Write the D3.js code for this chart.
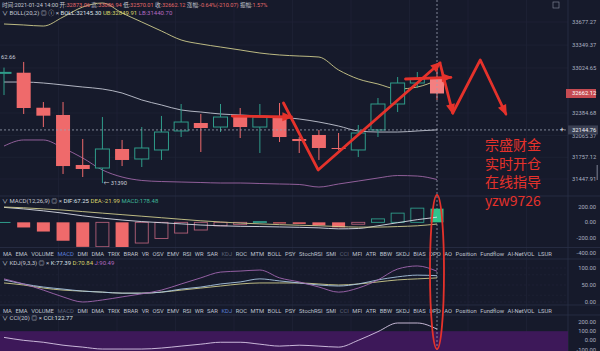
<!DOCTYPE html>
<html>
<head>
<meta charset="utf-8">
<script src="https://cdn.jsdelivr.net/npm/d3@7"></script>
<style>
  body { margin: 0; background: #161a2b; }
  svg { display: block; font-family: Roboto, "Noto Sans CJK SC", sans-serif; }
</style>
</head>
<body>
<div id="chart"></div>
<script>
const width = 600, height = 351;
const axisX = 568;

// ---- candles (BTC/USDT 1h) ----
const opens  = [32950, 32957, 32460, 32357, 31647, 31604, 31874, 31732, 31860, 32130, 32243, 32186, 32328, 32186, 32328, 32016, 32073, 31888, 31860, 32144, 32513, 32811, 32873.06];
const closes = [32962, 32456, 32347, 31632, 31590, 31874, 31718, 31888, 32115, 32257, 32172, 32328, 32186, 32328, 32044, 31987, 31888, 31874, 32101, 32513, 32811, 32868, 32662.12];
const highs  = [33030, 33110, 32541, 32541, 32016, 32328, 32002, 32186, 32343, 32513, 32371, 32513, 32456, 32513, 32527, 32044, 32144, 32101, 32215, 32598, 32896, 32967, 33086.94];
const lows   = [32640, 32371, 32186, 31519, 31476, 31390, 31632, 31618, 31718, 32044, 31831, 32115, 32030, 31817, 31973, 31817, 31718, 31860, 31760, 32044, 32399, 32740, 32570.01];

// Bollinger (20,2)
const bollUp  = [33649, 33635, 33620, 33748, 33890, 33947, 33805, 33677, 33549, 33422, 33365, 33322, 33280, 33237, 33209, 33194, 33180, 32996, 32868, 32797, 32726, 32754, 32849.91];
const bollMid = [32825, 32825, 32811, 32783, 32754, 32726, 32669, 32570, 32499, 32428, 32399, 32371, 32357, 32342, 32328, 32300, 32257, 32200, 32130, 32115, 32115, 32130, 32145.30];
const bollLow = [31916, 32002, 32002, 31888, 31746, 31576, 31476, 31427, 31412, 31405, 31398, 31391, 31391, 31384, 31377, 31370, 31334, 31377, 31419, 31462, 31497, 31490, 31440.70];

const priceTicks = [33677.27, 33349.37, 33024.65, 32384.68, 32065.37, 31757.12, 31447.91];
const lastPrice = 32662.12;
const crossPrice = 32144.76;
const lowMark = 31390;
const highMark = 33062.66;

// MACD (12,26,9)
const macdHist = [5, -67, -120, -240, -320, -318, -325, -270, -210, -140, -100, -45, -30, 10, -15, -20, -40, -65, -25, 45, 120, 185, 178.48];
const dif = [195, 175, 150, 120, 85, 55, 30, 10, -5, -20, -35, -45, -52, -55, -60, -65, -72, -85, -80, -45, -5, 35, 67.25];
const dea = [200, 190, 175, 160, 140, 120, 100, 80, 60, 40, 20, 5, -10, -20, -30, -38, -45, -55, -62, -62, -55, -45, -21.99];
const macdTicks = [200, 0, -200, -400];

// KDJ (9,3,3)
const kVals = [65, 53, 44, 38, 32, 29, 26, 26, 29, 38, 44, 53, 59, 68, 62, 56, 50, 47, 53, 65, 74, 79, 77.39];
const dVals = [56, 50, 41, 35, 32, 29, 26, 26, 29, 35, 41, 47, 53, 56, 56, 56, 53, 50, 53, 59, 65, 68, 70.84];
const jVals = [68, 53, 35, 15, 0, 6, 15, 24, 35, 53, 71, 88, 91, 94, 71, 59, 44, 29, 41, 65, 97, 106, 90.49];
const kdjTicks = [100, 50, 0];

// CCI (20)
const cci = [32, 0, -21, -53, -74, -95, -95, -95, -84, -63, -42, -21, -21, -42, -63, -53, -63, -74, 0, 95, 189, 189, 122.77];
const cciTicks = [200, 100, 0, -100];

const tabs = ["MA","EMA","VOLUME","MACD","DMI","DMA","TRIX","BRAR","VR","OSV","EMV","RSI","WR","SAR","KDJ","ROC","MTM","BOLL","PSY","StochRSI","SMI","CCI","MFI","ATR","BBW","SKDJ","BIAS","DPO","AO","Position","Fundflow","AI-NetVOL","LSUR"];

// hand drawn annotation, in [candle index, price]
const annoFlat  = [[11.6, 32342], [14.6, 32328]];
const annoV     = [[14.2, 32527], [15.96, 31576], [22.15, 33095]];
const annoFlat2 = [[20.4, 32868], [22.7, 32890]];
const annoDrop  = [[22.15, 33095], [22.8, 32385]];
const annoZig   = [[22.8, 32385], [24.2, 33138], [25.5, 32371]];
const noteLines = ["宗盛财金", "实时开仓", "在线指导", "yzw9726"];

const red = "#ef6a6b", teal = "#2f9c8a", bright = "#2ec48c", textCol = "#aab0c0", ink = "#e5322b";

const svg = d3.select("#chart").append("svg")
  .attr("width", width).attr("height", height);
svg.append("rect").attr("width", width).attr("height", height).attr("fill", "#161a2b");

const x = d3.scaleLinear().domain([0, opens.length - 1]).range([4, 437]);
const y = d3.scaleLinear().domain([31447.91, 33677.27]).range([179, 22]);
const yM = d3.scaleLinear().domain([-400, 200]).range([253, 207]);
const yK = d3.scaleLinear().domain([0, 100]).range([302, 268]);
const yC = d3.scaleLinear().domain([-100, 200]).range([349.5, 322]);
const bw = 14;
const idx = d3.range(opens.length);

// clips
const defs = svg.append("defs");
[["cMain", 0, 196], ["cMacd", 196, 247], ["cKdj", 259, 305], ["cCci", 315, 351]].forEach(([id, y0, y1]) => {
  defs.append("clipPath").attr("id", id).append("rect")
    .attr("x", 0).attr("y", y0).attr("width", axisX).attr("height", y1 - y0);
});

// grid
const grid = svg.append("g").attr("stroke", "#1f2437").attr("stroke-width", 0.7);
d3.range(1, 10).forEach(k => {
  grid.append("line").attr("x1", k * 58.5).attr("x2", k * 58.5).attr("y1", 0).attr("y2", height);
});
priceTicks.forEach(p => grid.append("line").attr("x1", 0).attr("x2", axisX).attr("y1", y(p)).attr("y2", y(p)));
kdjTicks.concat([80, 20]).forEach(v => grid.append("line").attr("x1", 0).attr("x2", axisX)
  .attr("y1", yK(v)).attr("y2", yK(v)).attr("stroke-dasharray", "2,2"));

// panel borders
const sep = svg.append("g").attr("stroke", "#2a3047").attr("stroke-width", 0.8);
[196, 247.5, 259, 305, 315].forEach(v => sep.append("line").attr("x1", 0).attr("x2", width).attr("y1", v).attr("y2", v));
sep.append("line").attr("x1", axisX).attr("x2", axisX).attr("y1", 0).attr("y2", height);

// CCI band
svg.append("rect").attr("x", 0).attr("width", axisX)
  .attr("y", yC(100)).attr("height", height - yC(100)).attr("fill", "#3d1859");

// ---- main panel ----
const main = svg.append("g").attr("clip-path", "url(#cMain)");
const lineOf = (arr, sc) => d3.line().x((d, i) => x(i)).y(d => sc(d)).curve(d3.curveMonotoneX)(arr);

main.append("path").attr("d", lineOf(bollUp, y)).attr("fill", "none").attr("stroke", "#cfcc8c").attr("stroke-width", 0.9);
main.append("path").attr("d", lineOf(bollMid, y)).attr("fill", "none").attr("stroke", "#c3c6d2").attr("stroke-width", 0.9);
main.append("path").attr("d", lineOf(bollLow, y)).attr("fill", "none").attr("stroke", "#9e66a6").attr("stroke-width", 0.9);

const candles = main.selectAll("g.c").data(idx).join("g");
candles.append("line")
  .attr("x1", i => x(i)).attr("x2", i => x(i))
  .attr("y1", i => y(highs[i])).attr("y2", i => y(lows[i]))
  .attr("stroke", i => closes[i] >= opens[i] ? teal : red).attr("stroke-width", 1);
candles.append("rect")
  .attr("x", i => x(i) - bw / 2).attr("width", bw)
  .attr("y", i => y(Math.max(opens[i], closes[i])))
  .attr("height", i => Math.max(1, Math.abs(y(opens[i]) - y(closes[i]))))
  .attr("fill", i => closes[i] >= opens[i] ? "#161a2b" : (i === idx.length - 1 ? "#f47f80" : red))
  .attr("stroke", i => closes[i] >= opens[i] ? teal : "none").attr("stroke-width", 1);

main.append("text").attr("x", 1).attr("y", y(highMark) - 6)
  .attr("font-size", 5.8).attr("fill", "#c8ccd8").text(String(highMark).slice(3));
main.append("text").attr("x", x(5) + 1).attr("y", y(lowMark) + 2).attr("font-size", 5.8)
  .attr("fill", "#c8ccd8").text("← " + lowMark);

// crosshair
svg.append("line").attr("x1", x(22)).attr("x2", x(22)).attr("y1", 0).attr("y2", height)
  .attr("stroke", "#9ca2b4").attr("stroke-width", 0.8).attr("stroke-dasharray", "2,2");
svg.append("line").attr("x1", 0).attr("x2", axisX).attr("y1", y(crossPrice)).attr("y2", y(crossPrice))
  .attr("stroke", "#9ca2b4").attr("stroke-width", 0.8).attr("stroke-dasharray", "2,2");

// ---- MACD ----
const macd = svg.append("g").attr("clip-path", "url(#cMacd)");
macd.selectAll("rect").data(idx).join("rect")
  .attr("x", i => x(i) - bw / 2 + 0.5).attr("width", bw - 1)
  .attr("y", i => yM(Math.max(0, macdHist[i])))
  .attr("height", i => Math.max(1, Math.abs(yM(macdHist[i]) - yM(0))))
  .attr("fill", i => {
    const filled = i === 0 || macdHist[i] < macdHist[i - 1];
    if (!filled) return "none";
    if (i === idx.length - 1) return bright;
    return macdHist[i] >= 0 ? teal : red;
  })
  .attr("stroke", i => {
    const filled = i === 0 || macdHist[i] < macdHist[i - 1];
    if (filled) return "none";
    return macdHist[i] >= 0 ? teal : "#b25f78";
  }).attr("stroke-width", 0.9);
macd.append("path").attr("d", lineOf(dif, yM)).attr("fill", "none").attr("stroke", "#d9dce6").attr("stroke-width", 0.9);
macd.append("path").attr("d", lineOf(dea, yM)).attr("fill", "none").attr("stroke", "#cfcc8c").attr("stroke-width", 0.9);

// ---- KDJ ----
const kdj = svg.append("g").attr("clip-path", "url(#cKdj)");
kdj.append("path").attr("d", lineOf(dVals, yK)).attr("fill", "none").attr("stroke", "#cfcc8c").attr("stroke-width", 0.9);
kdj.append("path").attr("d", lineOf(kVals, yK)).attr("fill", "none").attr("stroke", "#a9c6e2").attr("stroke-width", 0.9);
kdj.append("path").attr("d", lineOf(jVals, yK)).attr("fill", "none").attr("stroke", "#a166b0").attr("stroke-width", 0.9);

// ---- CCI ----
const cc = svg.append("g").attr("clip-path", "url(#cCci)");
cc.append("path").attr("d", lineOf(cci, yC)).attr("fill", "none").attr("stroke", "#d8c8e6").attr("stroke-width", 0.9);

// ---- right axis labels ----
const ax = svg.append("g").attr("font-size", 5.8).attr("fill", textCol);
priceTicks.forEach(p => ax.append("text").attr("x", 572).attr("y", y(p) + 2).text(p.toFixed(2)));
macdTicks.forEach(v => ax.append("text").attr("x", 596).attr("text-anchor", "end").attr("y", yM(v) + 2).text(v.toFixed(2)));
kdjTicks.forEach(v => ax.append("text").attr("x", 596).attr("text-anchor", "end").attr("y", yK(v) + 2).text(v.toFixed(2)));
cciTicks.forEach(v => ax.append("text").attr("x", 596).attr("text-anchor", "end").attr("y", yC(v) + 2).text(v.toFixed(2)));

// last price tag
svg.append("rect").attr("x", 566).attr("y", y(lastPrice) - 4.5).attr("width", 30).attr("height", 9).attr("fill", "#c64b52");
svg.append("text").attr("x", 572).attr("y", y(lastPrice) + 2).attr("font-size", 5.8).attr("fill", "#fff").text(lastPrice.toFixed(2));
// crosshair tag
svg.append("rect").attr("x", 568).attr("y", y(crossPrice) - 4.5).attr("width", 30).attr("height", 9).attr("fill", "#3a3f52");
svg.append("text").attr("x", 572).attr("y", y(crossPrice) + 2).attr("font-size", 5.8).attr("fill", "#eef0f5").text(crossPrice.toFixed(2));
svg.append("text").attr("x", 562).attr("y", y(crossPrice) + 2.5).attr("font-size", 8).attr("text-anchor", "middle").attr("fill", "#e0e2ea").text("+");
// corner icon + scrollbar
svg.append("rect").attr("x", 553).attr("y", 2).attr("width", 6).attr("height", 6).attr("fill", "none").attr("stroke", "#8a90a0").attr("stroke-width", 0.6);
svg.append("rect").attr("x", 596.5).attr("y", 165).attr("width", 1.5).attr("height", 15).attr("fill", "#5b6072");

// ---- legend rows ----
function legendRow(yy, parts, fs) {
  const t = svg.append("text").attr("x", 2).attr("y", yy).attr("font-size", fs || 6);
  parts.forEach(([s, c]) => t.append("tspan").attr("fill", c).text(s));
}
const lg = "#c5c9d4", rv = "#e36a6a";
legendRow(7, [["时间:2021-01-24 14:00 ", lg], ["开:", lg], ["32873.06 ", rv], ["高:", lg], ["33086.94 ", rv],
  ["低:", lg], ["32570.01 ", rv], ["收:", lg], ["32662.12 ", rv], ["涨幅:", lg], ["-0.64%(-210.07) ", rv], ["振幅:", lg], ["1.57%", rv]], 5.6);
legendRow(15, [["∨  BOLL(20,2)  ◎  ⓘ  ×  ", lg], ["BOLL:32145.30  ", "#dfe1e8"], ["UB:32849.91  ", "#d6d36a"], ["LB:31440.70", "#b46ac0"]]);
legendRow(203, [["∨  MACD(12,26,9)  ◎  ×  ", lg], ["DIF:67.25  ", "#dfe1e8"], ["DEA:-21.99  ", "#d6d36a"], ["MACD:178.48", "#3fb79a"]]);
legendRow(265, [["∨  KDJ(9,3,3)  ◎  ×  ", lg], ["K:77.39  ", "#dfe1e8"], ["D:70.84  ", "#d6d36a"], ["J:90.49", "#b46ac0"]]);
legendRow(320, [["∨  CCI(20)  ◎  ×  ", lg], ["CCI:122.77", "#dfe1e8"]]);

// ---- indicator tabs ----
function tabRow(yy, active, dim) {
  const g = svg.append("g").attr("font-size", 5.8);
  const items = tabs.map(s => g.append("text").attr("y", yy).text(s)
    .attr("fill", s === active ? "#5b7fd6" : dim.includes(s) ? "#5d6378" : "#bfc3cf"));
  const w = items.map(t => t.node().getComputedTextLength());
  const gap = (538 - 3 - d3.sum(w.slice(0, -1))) / (tabs.length - 1);
  let cx = 3;
  items.forEach((t, k) => { t.attr("x", cx); cx += w[k] + gap; });
}
tabRow(255.5, "MACD", ["KDJ", "CCI"]);
tabRow(312.5, "KDJ", ["MACD", "CCI"]);

// ---- hand drawn annotation ----
const ann = svg.append("g").attr("stroke", ink).attr("fill", "none").attr("stroke-width", 2.8)
  .attr("stroke-linejoin", "round").attr("stroke-linecap", "round");
function arrow(pts, head) {
  const p = pts.map(([i, v]) => [x(i), y(v)]);
  ann.append("path").attr("d", d3.line()(p));
  if (!head) return;
  const [a, b] = p.slice(-2);
  const ang = Math.atan2(b[1] - a[1], b[0] - a[0]);
  const L = 9, W = 4.5;
  const tri = [[b[0] + 2 * Math.cos(ang), b[1] + 2 * Math.sin(ang)],
    [b[0] - L * Math.cos(ang) + W * Math.sin(ang), b[1] - L * Math.sin(ang) - W * Math.cos(ang)],
    [b[0] - L * Math.cos(ang) - W * Math.sin(ang), b[1] - L * Math.sin(ang) + W * Math.cos(ang)]];
  svg.append("path").attr("d", d3.line()(tri) + "Z").attr("fill", ink);
}
arrow(annoFlat, true);
arrow(annoV, true);
arrow(annoFlat2, true);
arrow(annoDrop, true);
arrow(annoZig, true);

svg.append("ellipse").attr("cx", x(22)).attr("cy", 272).attr("rx", 7).attr("ry", 77)
  .attr("fill", "none").attr("stroke", ink).attr("stroke-width", 1.8);

noteLines.forEach((s, k) => {
  svg.append("text").attr("x", 485).attr("y", 150 + k * 18.5).attr("font-size", 14)
    .attr("font-family", "'Noto Sans CJK SC', sans-serif").attr("fill", ink).text(s);
});
</script>
</body>
</html>
